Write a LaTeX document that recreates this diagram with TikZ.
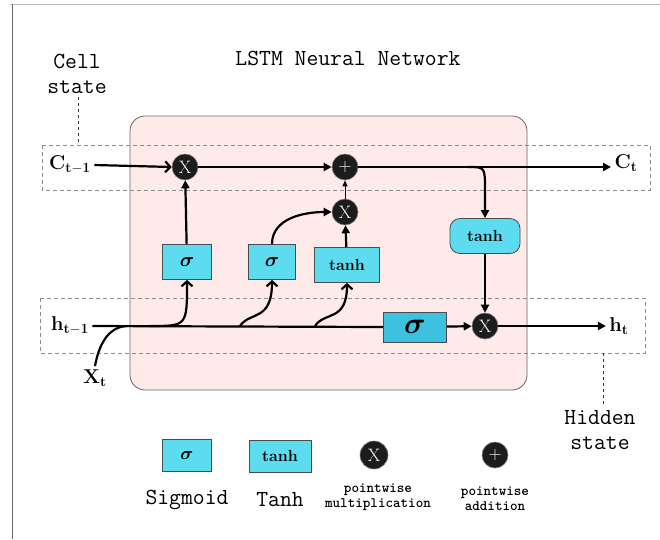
\documentclass[tikz,border=0pt]{standalone}
\usepackage{fix-cm}
\usepackage{amsmath,bm}
\usetikzlibrary{arrows.meta}

\definecolor{gatecyan}{HTML}{5DDCF0}
\definecolor{gatedark}{HTML}{3EC1DE}
\definecolor{cellpink}{HTML}{FFEAEA}
\definecolor{opdark}{HTML}{1C1C1C}
\definecolor{dashgray}{HTML}{8C8C8C}

\newcommand\capfont{\ttfamily\fontsize{23}{25}\selectfont}
\newcommand\keyfont{\ttfamily\bfseries\fontsize{14.4}{15}\selectfont}
\newcommand\symfont{\fontsize{20}{22}\selectfont}
\newcommand\gatefont{\bfseries\fontsize{16}{18}\selectfont}

\tikzset{
  gatebox/.style={draw=black!70, fill=gatecyan, line width=0.8pt,
    minimum width=49pt, minimum height=35pt, inner sep=0pt, font=\gatefont},
  opnode/.style={circle, fill=opdark, draw=black!50, line width=0.6pt,
    minimum size=26pt, inner sep=0pt, text=white, font=\fontsize{18}{18}\selectfont},
  flow/.style={line width=2.2pt, -{Triangle[length=8pt,width=8pt]}},
  feed/.style={line width=2.2pt, -{Straight Barb[length=5pt,width=11pt]}},
  dashbox/.style={draw=dashgray, dash pattern=on 4pt off 3pt, line width=0.9pt},
}

\begin{document}
\begin{tikzpicture}[x=1pt, y=-1pt]

      \useasboundingbox (0,0) rectangle (660,539);
      \fill [white] (0,0) rectangle (660,539);

      % outer frame
      \draw [gray!50, line width=0.8pt] (10,4) -- (660,4);
      \draw [black!60, line width=0.8pt] (12,4) -- (12,539);

      \node [font=\capfont] (title) at (348,58) {LSTM Neural Network};

      % cell body
      \draw [fill=cellpink, draw=black!60, line width=0.8pt, rounded corners=15pt]
        (130,116) rectangle (527,390);

      % state bands
      \draw [dashbox] (42,145) rectangle (650,190);
      \draw [dashbox] (40,298) rectangle (645,353);

      \node [font=\capfont, align=center] (celllbl) at (77,74) {Cell\\state};
      \node [font=\capfont, align=center] (hidlbl) at (600,430) {Hidden\\state};
      \draw [black!80, dashed, line width=0.7pt] (celllbl.south -| 78,0) -- (78,145);
      \draw [black!80, dashed, line width=0.7pt] (603,353) -- (hidlbl.north -| 603,0);

      % labels
      \node [font=\symfont] (Cprev) at (70,165) {$\mathbf{C}_{\mathbf{t-1}}$};
      \node [font=\symfont] (Cnext) at (626,163) {$\mathbf{C}_{\mathbf{t}}$};
      \node [font=\symfont] (hprev) at (70,326) {$\mathbf{h}_{\mathbf{t-1}}$};
      \node [font=\symfont] (hnext) at (619,326) {$\mathbf{h}_{\mathbf{t}}$};
      \node [font=\symfont] (xin) at (95,378) {$\mathbf{X}_{\mathbf{t}}$};

      % pointwise operations
      \node [opnode] (forgetX) at (185,167) {X};
      \node [opnode] (addC) at (345,167) {+};
      \node [opnode] (inputX) at (345,212) {X};
      \node [opnode] (outX) at (485,326) {X};

      % gates
      \node [gatebox, font=\fontsize{20}{20}\selectfont] (forgetS) at (187,262) {$\bm{\sigma}$};
      \node [gatebox, minimum width=47pt, font=\fontsize{20}{20}\selectfont] (inputS) at (272,262) {$\bm{\sigma}$};
      \node [gatebox, minimum width=65pt] (candT) at (347,265) {tanh};
      \node [gatebox, fill=gatedark, minimum width=63pt, minimum height=30pt,
        font=\fontsize{30}{30}\selectfont] (outS) at (415,327) {$\bm{\sigma}$};
      \node [gatebox, rounded corners=10pt, minimum width=70pt] (cellT) at (485,236) {tanh};

      % cell state line
      \coordinate (cbranch) at (468,167);
      \draw [feed] (Cprev.east) -- (forgetX.west);
      \draw [flow] (forgetX) -- (addC);
      \draw [flow] (addC.east) -- (addC.east -| Cnext.west);
      \draw [flow] (cbranch) .. controls (485,167) .. (485,190) -- (cellT.north);
      \draw [flow] (cellT) -- (outX);

      % gate outputs
      \draw [flow] (forgetS) -- (forgetX);
      \draw [flow] (inputS.north) to [out=90, in=180] (inputX.west);
      \draw [flow] (candT) -- (inputX);
      \draw [line width=0.8pt, -{Triangle[length=6pt,width=5pt]}] (inputX) -- (addC);

      % hidden state line
      \coordinate (xjoin) at (128,326);
      \coordinate (fbranch) at (150,326);
      \coordinate (ibranch) at (240,326);
      \coordinate (tbranch) at (315,326);
      \draw [line width=2.2pt] (hprev.east) -- (outS.west);
      \draw [line width=2.2pt] (xin.north) to [out=80, in=180] (xjoin);
      \draw [flow] (outS) -- (outX);
      \draw [flow] (outX) -- (hnext.west);
      \draw [feed] (fbranch) .. controls (187,326) .. (forgetS.south);
      \draw [feed] (ibranch) .. controls (250,311) and (272,322) .. (inputS.south);
      \draw [feed] (tbranch) .. controls (325,311) and (347,322) .. (candT.south);

      % key
      \node [gatebox, minimum height=32pt, font=\fontsize{18}{18}\selectfont] (keyS) at (187,455) {$\bm{\sigma}$};
      \node [gatebox, minimum width=62pt, minimum height=32pt] (keyT) at (280,456) {tanh};
      \node [opnode, minimum size=28pt] (keyX) at (374,455) {X};
      \node [opnode] (keyA) at (495,455) {+};
      \node [font=\capfont] (keySlbl) at (187,500) {Sigmoid};
      \node [font=\capfont] (keyTlbl) at (280,500) {Tanh};
      \node [font=\keyfont, align=center] (keyXlbl) at (378,497) {pointwise\\multiplication};
      \node [font=\keyfont, align=center] (keyAlbl) at (495,499) {pointwise\\addition};
    \end{tikzpicture}
\end{document}
